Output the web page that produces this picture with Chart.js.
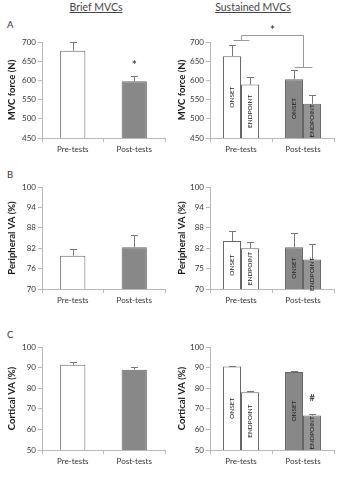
<!DOCTYPE html>
<html>
<head>
<meta charset="utf-8">
<script src="https://cdn.jsdelivr.net/npm/chart.js@4.4.0/dist/chart.umd.min.js"></script>
<style>
body{margin:0;width:339px;height:480px;background:#fff;position:relative;overflow:hidden;font-family:Lato,'Open Sans',sans-serif}
canvas{position:absolute}
.title{position:absolute;top:1px;font-size:10.5px;color:#444;text-decoration:underline;transform:translateX(-50%);white-space:nowrap}
.letter{position:absolute;left:7px;font-size:9.5px;color:#333}
</style>
</head>
<body>
<div class="title" style="left:96px">Brief MVCs</div>
<div class="title" style="left:253px">Sustained MVCs</div>
<div class="letter" style="top:19px">A</div>
<div class="letter" style="top:169px">B</div>
<div class="letter" style="top:329px">C</div>

<canvas id="briefForce" width="170" height="160" style="left:0;top:0"></canvas>
<canvas id="sustForce" width="169" height="160" style="left:170px;top:0"></canvas>
<canvas id="briefPeriph" width="170" height="160" style="left:0;top:160px"></canvas>
<canvas id="sustPeriph" width="169" height="160" style="left:170px;top:160px"></canvas>
<canvas id="briefCort" width="170" height="160" style="left:0;top:320px"></canvas>
<canvas id="sustCort" width="169" height="160" style="left:170px;top:320px"></canvas>

<script>
const groups = ['Pre-tests', 'Post-tests'];
const phases = ['ONSET', 'ENDPOINT'];

// brief MVCs (pre, post)
const briefForce = [677, 598];
const briefForceErr = [24, 13];
const briefPeriph = [79.8, 82.3];
const briefPeriphErr = [2.1, 3.6];
const briefCort = [91.4, 89.0];
const briefCortErr = [1.3, 1.5];

// sustained MVCs (pre, post)
const sustForceOnset = [663, 603];
const sustForceOnsetErr = [28, 24];
const sustForceEnd = [589, 539];
const sustForceEndErr = [21, 24];
const sustPeriphOnset = [84.1, 82.3];
const sustPeriphOnsetErr = [3.0, 4.2];
const sustPeriphEnd = [82.0, 78.7];
const sustPeriphEndErr = [1.8, 4.5];
const sustCortOnset = [90.5, 87.9];
const sustCortOnsetErr = [0.4, 0.3];
const sustCortEnd = [78.0, 66.7];
const sustCortEndErr = [0.5, 0.7];

// tick labels
const forceTicks = ['450', '500', '550', '600', '650', '700'];
const periphTicks = ['70', '76', '82', '88', '94', '100'];
const periphTicksSust = ['70', '75', '82', '88', '94', '100'];
const cortTicks = ['50', '60', '70', '80', '90', '100'];

// significance bracket over sustained force (y levels in N)
const bracketLevels = [705, 718, 636];

const axisGrey = '#b8b8b8';
const preFill = ['#ffffff', '#888888'];
const endFill = ['#ffffff', '#959595'];

Chart.defaults.font.family = "Lato, 'Open Sans', sans-serif";
Chart.defaults.color = '#333';

const errorBars = {
  id: 'errorBars',
  afterDatasetsDraw(chart, args, opts) {
    const ctx = chart.ctx, y = chart.scales.y;
    chart.data.datasets.forEach((ds, di) => {
      const meta = chart.getDatasetMeta(di);
      meta.data.forEach((bar, i) => {
        const x = Math.round(bar.x) + 0.5;
        const top = Math.round(y.getPixelForValue(ds.data[i] + ds.err[i])) + 0.5;
        ctx.save();
        ctx.strokeStyle = '#777';
        ctx.lineWidth = 1;
        ctx.beginPath();
        ctx.moveTo(x, bar.y); ctx.lineTo(x, top);
        ctx.moveTo(x - 3.5, top); ctx.lineTo(x + 3.5, top);
        ctx.stroke();
        ctx.restore();
        if (ds.inner) {
          ctx.save();
          ctx.translate(bar.x, (bar.y + y.bottom) / 2);
          ctx.rotate(-Math.PI / 2);
          ctx.font = "6.5px Lato, 'Open Sans', sans-serif";
          ctx.fillStyle = '#222';
          ctx.textAlign = 'center';
          ctx.textBaseline = 'middle';
          ctx.fillText(ds.label, 0, 0);
          ctx.restore();
        }
      });
    });
    (opts.marks || []).forEach(m => {
      ctx.save();
      ctx.fillStyle = '#444';
      ctx.strokeStyle = '#999';
      ctx.lineWidth = 1;
      ctx.textAlign = 'center';
      ctx.textBaseline = 'middle';
      if (m.type === 'text') {
        const ds = chart.data.datasets[m.ds];
        const bar = chart.getDatasetMeta(m.ds).data[m.idx];
        const top = y.getPixelForValue(ds.data[m.idx] + ds.err[m.idx]);
        ctx.font = m.font;
        ctx.fillText(m.text, bar.x, top - m.gap);
      } else if (m.type === 'bracket') {
        const xs = chart.scales.x;
        const x0 = Math.round(xs.getPixelForValue(0)) + 0.5;
        const x1 = Math.round(xs.getPixelForValue(1)) + 0.5;
        const yl = Math.round(y.getPixelForValue(m.levels[0])) + 0.5;
        const yt = Math.round(y.getPixelForValue(m.levels[1])) + 0.5;
        const yr = Math.round(y.getPixelForValue(m.levels[2])) + 0.5;
        ctx.beginPath();
        ctx.moveTo(x0 - 8, yl); ctx.lineTo(x0 + 8, yl);
        ctx.moveTo(x0, yl); ctx.lineTo(x0, yt); ctx.lineTo(x1, yt); ctx.lineTo(x1, yr);
        ctx.moveTo(x1 - 9, yr); ctx.lineTo(x1 + 9, yr);
        ctx.stroke();
        ctx.font = m.font;
        ctx.fillText(m.text, (x0 + x1) / 2, yt - m.gap);
      }
      ctx.restore();
    });
  }
};

function build(id, datasets, yOpt, lay, catPct, marks) {
  return new Chart(document.getElementById(id), {
    type: 'bar',
    data: { labels: groups, datasets },
    options: {
      responsive: false,
      animation: false,
      layout: { padding: { left: 0, right: 5, top: lay.top, bottom: 0 } },
      datasets: { bar: { categoryPercentage: catPct, barPercentage: 1 } },
      plugins: {
        legend: { display: false },
        tooltip: { enabled: false },
        errorBars: { marks: marks || [] }
      },
      scales: {
        x: {
          grid: { drawOnChartArea: false, tickLength: 4, color: axisGrey, offset: true },
          border: { color: axisGrey },
          ticks: { font: { size: 8 }, padding: 3, color: '#333' },
          afterFit: s => { s.height = lay.xh; }
        },
        y: {
          min: yOpt.min, max: yOpt.max,
          ticks: { stepSize: yOpt.step, font: { size: 8 }, padding: 2, color: '#333',
                   callback: (v, i) => yOpt.labels[i] },
          grid: { drawOnChartArea: false, tickLength: 4, color: axisGrey },
          border: { color: axisGrey },
          title: { display: true, text: yOpt.title, color: '#1a1a1a',
                   font: { size: 9.5, weight: 'bold' }, padding: { top: 6, bottom: 0 } },
          afterFit: s => { s.width = lay.yw; }
        }
      }
    },
    plugins: [errorBars]
  });
}

function single(data, err) {
  return [{ label: '', data, err, backgroundColor: preFill, borderColor: '#666', borderWidth: 1 }];
}
function paired(onset, onsetErr, end, endErr) {
  return [
    { label: phases[0], data: onset, err: onsetErr, inner: true, backgroundColor: preFill, borderColor: '#666', borderWidth: 1 },
    { label: phases[1], data: end, err: endErr, inner: true, backgroundColor: endFill, borderColor: '#666', borderWidth: 1 }
  ];
}

const forceY = { min: 450, max: 700, step: 50, labels: forceTicks, title: 'MVC force (N)' };
const periphY = { min: 70, max: 100, step: 6, labels: periphTicks, title: 'Peripheral VA (%)' };
const periphYSust = { min: 70, max: 100, step: 6, labels: periphTicksSust, title: 'Peripheral VA (%)' };
const cortY = { min: 50, max: 100, step: 10, labels: cortTicks, title: 'Cortical VA (%)' };

build('briefForce', single(briefForce, briefForceErr), forceY, { top: 42, xh: 22, yw: 42 }, 0.41,
  [{ type: 'text', text: '*', font: 'bold 12px Lato, sans-serif', ds: 0, idx: 1, gap: 11 }]);
build('sustForce', paired(sustForceOnset, sustForceOnsetErr, sustForceEnd, sustForceEndErr), forceY,
  { top: 42, xh: 22, yw: 40 }, 0.58,
  [{ type: 'bracket', levels: bracketLevels, text: '*', font: 'bold 12px Lato, sans-serif', gap: 5 }]);
build('briefPeriph', single(briefPeriph, briefPeriphErr), periphY, { top: 27, xh: 31, yw: 42 }, 0.41);
build('sustPeriph', paired(sustPeriphOnset, sustPeriphOnsetErr, sustPeriphEnd, sustPeriphEndErr), periphYSust,
  { top: 27, xh: 31, yw: 40 }, 0.58);
build('briefCort', single(briefCort, briefCortErr), cortY, { top: 27, xh: 30, yw: 42 }, 0.41);
build('sustCort', paired(sustCortOnset, sustCortOnsetErr, sustCortEnd, sustCortEndErr), cortY,
  { top: 27, xh: 30, yw: 40 }, 0.58,
  [{ type: 'text', text: '#', font: 'bold 9px Lato, sans-serif', ds: 1, idx: 1, gap: 16 }]);
</script>
</body>
</html>
